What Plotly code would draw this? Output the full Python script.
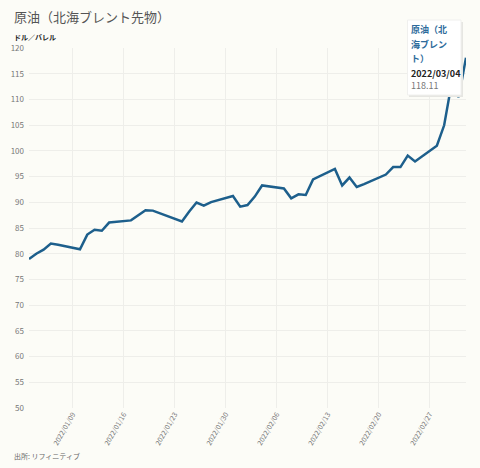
import plotly.graph_objects as go

# 原油（北海ブレント先物） 終値
dates = [
    "2022-01-03", "2022-01-04", "2022-01-05", "2022-01-06", "2022-01-07",
    "2022-01-10", "2022-01-11", "2022-01-12", "2022-01-13", "2022-01-14",
    "2022-01-17", "2022-01-18", "2022-01-19", "2022-01-20", "2022-01-21",
    "2022-01-24", "2022-01-25", "2022-01-26", "2022-01-27", "2022-01-28",
    "2022-01-31", "2022-02-01", "2022-02-02", "2022-02-03", "2022-02-04",
    "2022-02-07", "2022-02-08", "2022-02-09", "2022-02-10", "2022-02-11",
    "2022-02-14", "2022-02-15", "2022-02-16", "2022-02-17", "2022-02-18",
    "2022-02-21", "2022-02-22", "2022-02-23", "2022-02-24", "2022-02-25",
    "2022-02-28", "2022-03-01", "2022-03-02", "2022-03-03", "2022-03-04",
]
prices = [
    78.98, 80.00, 80.80, 81.99, 81.75,
    80.87, 83.72, 84.67, 84.47, 86.06,
    86.48, 87.51, 88.44, 88.38, 87.89,
    86.27, 88.20, 89.96, 89.34, 90.03,
    91.21, 89.16, 89.47, 91.11, 93.27,
    92.69, 90.78, 91.55, 91.41, 94.44,
    96.48, 93.28, 94.81, 92.97, 93.54,
    95.39, 96.84, 96.84, 99.08, 97.93,
    100.99, 104.97, 112.93, 110.46, 118.11,
]
x_ticks = ["2022-01-09", "2022-01-16", "2022-01-23", "2022-01-30",
           "2022-02-06", "2022-02-13", "2022-02-20", "2022-02-27"]
y_ticks = list(range(50, 121, 5))

FONT = "Noto Sans CJK JP"
BG = "#fcfcf7"
LINE = "#1d5f8c"

W, H = 480, 468
L, R, T, B = 29, 14, 48, 60


def px(x):
    # ピクセル位置 -> paper座標
    return (x - L) / (W - L - R)


def py(y):
    return (H - B - y) / (H - T - B)


fig = go.Figure()
fig.add_trace(go.Scatter(
    x=dates, y=prices, mode="lines",
    line=dict(color=LINE, width=2.5),
    name="原油（北海ブレント）",
    hoverinfo="skip",
    cliponaxis=False,
))

fig.update_layout(
    width=W, height=H,
    margin=dict(l=L, r=R, t=T, b=B),
    paper_bgcolor=BG, plot_bgcolor=BG,
    showlegend=False,
    font=dict(family=FONT, color="#666666", size=8),
    xaxis=dict(
        type="date",
        range=[dates[0], dates[-1]],
        tickvals=x_ticks,
        tickformat="%Y/%m/%d",
        tickangle=-60,
        tickfont=dict(size=7, color="#777777"),
        showgrid=True, gridcolor="#eeeeea", gridwidth=1,
        zeroline=False, showline=False, ticks="",
        automargin=False,
        fixedrange=True,
    ),
    yaxis=dict(
        range=[50, 120],
        tickvals=y_ticks,
        tickfont=dict(size=8, color="#777777"),
        showgrid=True, gridcolor="#eeeeea", gridwidth=1,
        zeroline=False, showline=False, ticks="",
        ticklabelstandoff=4,
        automargin=False,
        fixedrange=True,
    ),
)

# タイトル・単位・出所
fig.add_annotation(
    text="原油（北海ブレント先物）", xref="paper", yref="paper",
    x=px(12), y=py(16), xanchor="left", yanchor="middle", showarrow=False,
    font=dict(family=FONT, size=13, color="#555555"),
)
fig.add_annotation(
    text="<b>ドル／バレル</b>", xref="paper", yref="paper",
    x=px(12), y=py(37), xanchor="left", yanchor="middle", showarrow=False,
    font=dict(family=FONT, size=7, color="#222222"),
)
fig.add_annotation(
    text="出所: リフィニティブ", xref="paper", yref="paper",
    x=px(12), y=py(456), xanchor="left", yanchor="middle", showarrow=False,
    font=dict(family=FONT, size=7, color="#666666"),
)

# ツールチップ風の表示
fig.add_shape(type="rect", xref="paper", yref="paper",
              x0=px(409), x1=px(463), y0=py(97), y1=py(22),
              fillcolor="#e6e6e2", line=dict(width=0), layer="above")
fig.add_shape(type="rect", xref="paper", yref="paper",
              x0=px(407.5), x1=px(461), y0=py(95), y1=py(20),
              fillcolor="#ffffff", line=dict(color="#f0f0ee", width=1),
              layer="above")
tip_lines = [
    ("<b>原油（北</b>", "#2d6b9b", 30),
    ("<b>海ブレン</b>", "#2d6b9b", 44),
    ("<b>ト）</b>", "#2d6b9b", 58),
    ("<b>2022/03/04</b>", "#222222", 73),
    (f"{prices[-1]:.2f}", "#777777", 86),
]
for txt, col, y in tip_lines:
    fig.add_annotation(
        text=txt, xref="paper", yref="paper",
        x=px(409), y=py(y), xanchor="left", yanchor="middle",
        showarrow=False, font=dict(family=FONT, size=9, color=col),
    )

fig.write_html("out.html", config={"displayModeBar": False},
               post_script="document.body.style.margin='0';")
